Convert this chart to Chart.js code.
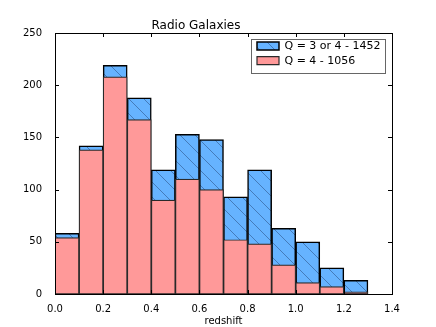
<!DOCTYPE html>
<html>
<head>
<meta charset="utf-8">
<script src="https://cdn.jsdelivr.net/npm/chart.js@4/dist/chart.umd.min.js"></script>
<style>
html,body{margin:0;padding:0;background:#fff;}
canvas{display:block;}
</style>
</head>
<body>
<canvas id="c" width="436" height="327"></canvas>
<script>
// bin centres (redshift bins of width 0.1)
const binCenters = [0.05, 0.15, 0.25, 0.35, 0.45, 0.55, 0.65, 0.75, 0.85, 0.95, 1.05, 1.15, 1.25];
// Q = 3 or 4 (total 1452)
const qAll = [58, 142, 219, 188, 119, 153, 148, 93, 119, 63, 50, 25, 13];
// Q = 4 (total 1056)
const q4 = [54, 138, 208, 167, 90, 110, 100, 52, 48, 28, 11, 7, 2];
const seriesLabels = ['Q = 3 or 4 - 1452', 'Q = 4 - 1056'];
const chartTitle = 'Radio Galaxies';
const xTitle = 'redshift';

const FONT = 'DejaVu Sans';

function hatch() {
  const s = 15;
  const c = document.createElement('canvas');
  c.width = s; c.height = s;
  const g = c.getContext('2d');
  g.fillStyle = '#66b3ff';
  g.fillRect(0, 0, s, s);
  g.strokeStyle = 'rgba(45,85,140,0.75)';
  g.lineWidth = 0.8;
  g.beginPath();
  g.moveTo(-1, -1); g.lineTo(s + 1, s + 1);
  g.moveTo(-s - 1, -1); g.lineTo(1, s + 1);
  g.moveTo(s - 1, -1); g.lineTo(2 * s + 1, s + 1);
  g.stroke();
  return g.createPattern(c, 'repeat');
}
const blueHatch = hatch();

const framePlugin = {
  id: 'frame',
  afterLayout(chart) {
    const lg = chart.legend;
    const a = chart.chartArea;
    if (lg) {
      lg.left = a.right - 138.8;
      lg.top = a.top + 3.6;
    }
  },
  afterDraw(chart) {
    const ctx = chart.ctx;
    const a = chart.chartArea;
    ctx.save();
    ctx.strokeStyle = '#000';
    ctx.lineWidth = 1;
    ctx.strokeRect(Math.round(a.left) + 0.5, Math.round(a.top) + 0.5,
      Math.round(a.right - a.left), Math.round(a.bottom - a.top));
    const tl = 4;
    const xs = chart.scales.x, ys = chart.scales.y;
    ctx.beginPath();
    xs.ticks.forEach(t => {
      const px = Math.round(xs.getPixelForValue(t.value)) + 0.5;
      ctx.moveTo(px, a.bottom); ctx.lineTo(px, a.bottom - tl);
      ctx.moveTo(px, a.top); ctx.lineTo(px, a.top + tl);
    });
    ys.ticks.forEach(t => {
      const py = Math.round(ys.getPixelForValue(t.value)) + 0.5;
      ctx.moveTo(a.left, py); ctx.lineTo(a.left + tl, py);
      ctx.moveTo(a.right, py); ctx.lineTo(a.right - tl, py);
    });
    ctx.stroke();
    // legend frame
    const lg = chart.legend;
    if (lg) {
      ctx.strokeStyle = '#666';
      ctx.lineWidth = 1;
      ctx.strokeRect(Math.round(lg.left) - 1.5, Math.round(a.top) + 6.5, 134, 34);
    }
    ctx.restore();
  }
};

new Chart(document.getElementById('c'), {
  type: 'bar',
  data: {
    datasets: [
      {
        label: seriesLabels[0],
        data: binCenters.map((x, i) => ({ x: x, y: qAll[i] })),
        backgroundColor: blueHatch,
        borderColor: '#000',
        borderWidth: 1.5,
        borderSkipped: false,
        order: 2
      },
      {
        label: seriesLabels[1],
        data: binCenters.map((x, i) => ({ x: x, y: q4[i] })),
        backgroundColor: '#ff9999',
        borderColor: '#2a2a2a',
        borderWidth: 1.2,
        borderSkipped: false,
        order: 1
      }
    ]
  },
  options: {
    responsive: false,
    animation: false,
    devicePixelRatio: 1,
    layout: { padding: { left: 0, right: 44, top: 0, bottom: 0 } },
    datasets: { bar: { grouped: false, barPercentage: 1, categoryPercentage: 1 } },
    plugins: {
      title: {
        display: true,
        text: chartTitle,
        color: '#000',
        font: { family: FONT, size: 12, weight: 'normal', lineHeight: 1 },
        padding: { top: 19.5, bottom: 1.5 }
      },
      legend: {
        display: true,
        position: 'chartArea',
        align: 'start',
        labels: {
          color: '#000',
          font: { family: FONT, size: 11 },
          boxWidth: 22,
          boxHeight: 8,
          padding: 3.8,
          sort: (a, b) => a.datasetIndex - b.datasetIndex
        }
      },
      tooltip: { enabled: false }
    },
    scales: {
      x: {
        type: 'linear',
        min: 0,
        max: 1.4,
        offset: false,
        grid: { display: false },
        border: { display: false },
        ticks: {
          stepSize: 0.2,
          color: '#000',
          font: { family: FONT, size: 10 },
          padding: 1,
          maxRotation: 0,
          callback: v => Number(v).toFixed(1)
        },
        title: {
          display: true,
          text: xTitle,
          color: '#000',
          font: { family: FONT, size: 10 },
          padding: { top: 0, bottom: 0 }
        },
        afterFit: s => { s.height = 33; }
      },
      y: {
        min: 0,
        max: 250,
        grid: { display: false },
        border: { display: false },
        ticks: {
          stepSize: 50,
          color: '#000',
          font: { family: FONT, size: 10 },
          padding: 5
        },
        afterFit: s => { s.width = 55; }
      }
    }
  },
  plugins: [framePlugin]
});
</script>
</body>
</html>
